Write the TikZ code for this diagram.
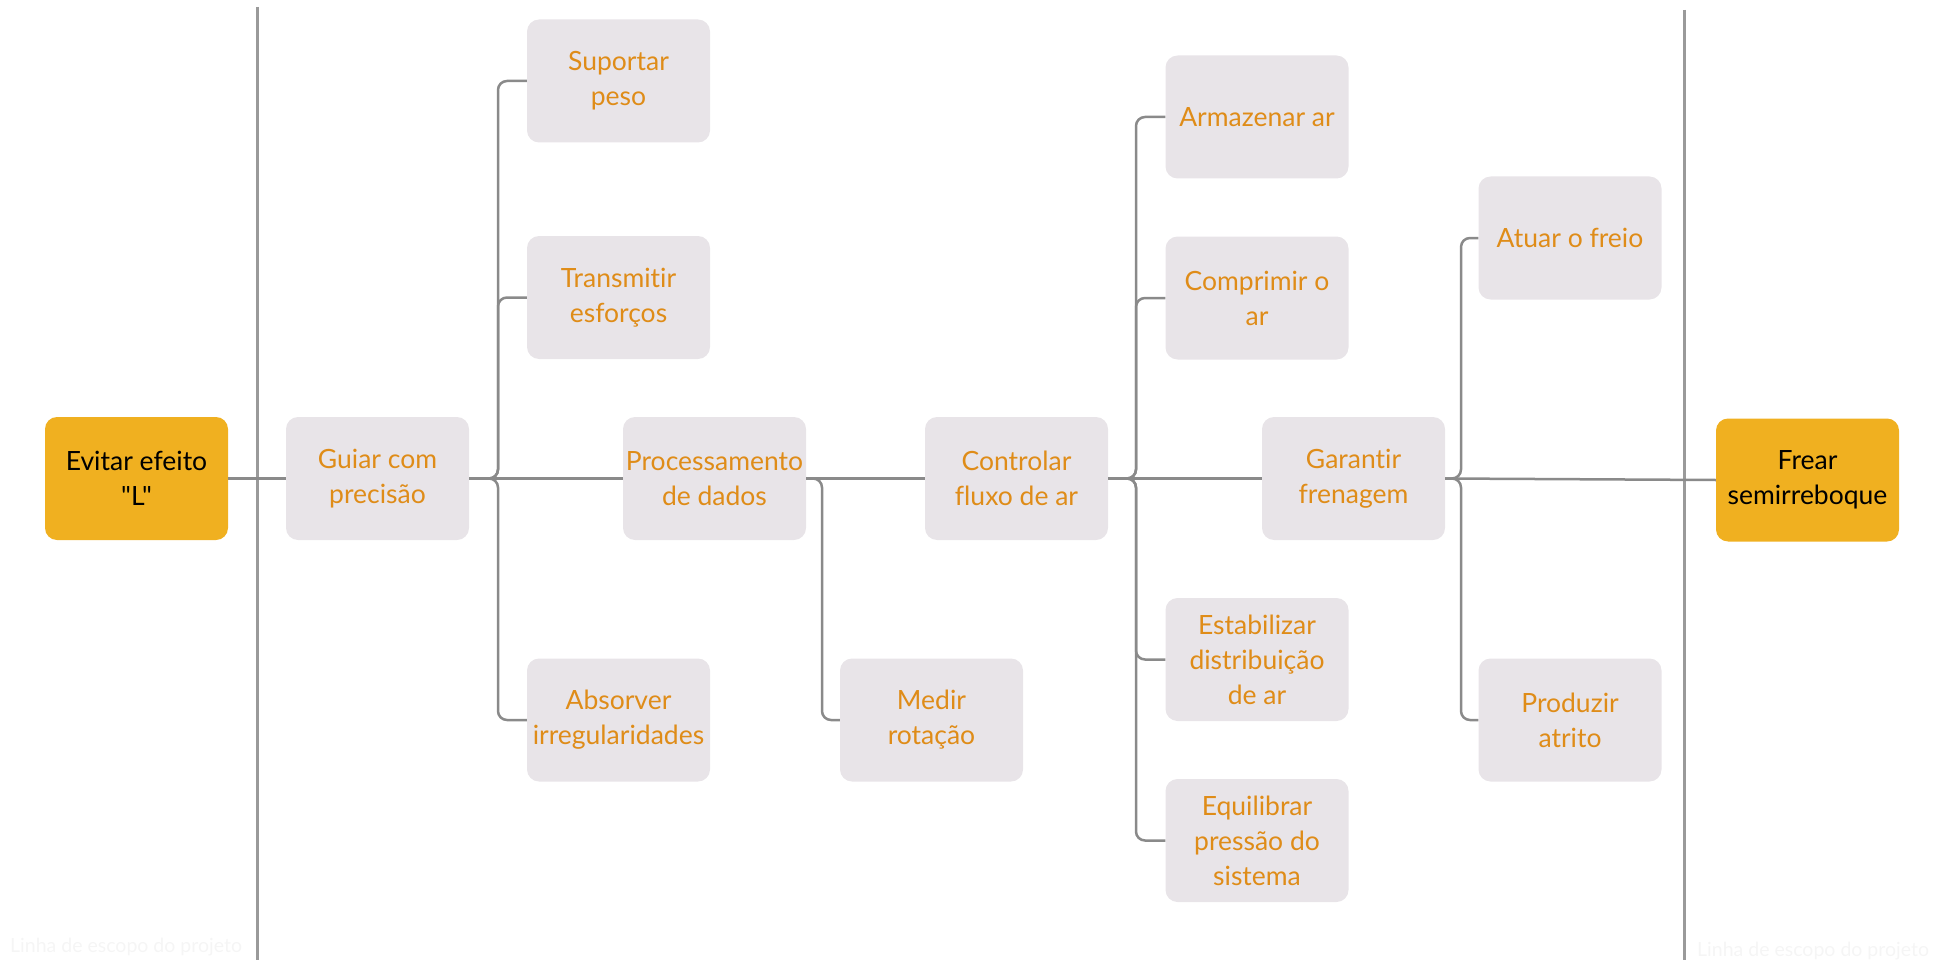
\documentclass[tikz,border=0pt]{standalone}
\usepackage{fontspec}
\setmainfont{Lato}[Ligatures={TeXOff,NoCommon}]
\definecolor{txtorange}{HTML}{DF8C18}
\definecolor{boxgrey}{HTML}{E8E4E8}
\definecolor{keyyellow}{HTML}{F0B020}
\definecolor{linegrey}{HTML}{8A8A8A}
\definecolor{scopegrey}{HTML}{9A9A9A}
\definecolor{faint}{HTML}{F5F5F5}
\begin{document}
\begin{tikzpicture}[x=1pt,y=-1pt,
  box/.style={draw=none, fill=boxgrey, rounded corners=12pt, minimum width=183pt, minimum height=123pt, align=center, text=txtorange, font=\fontsize{26.5}{35}\selectfont, inner sep=0pt},
  keybox/.style={box, fill=keyyellow, text=black},
  link/.style={draw=linegrey, line width=2.5pt, rounded corners=9pt},
  scopeline/.style={draw=scopegrey, line width=3pt},
  faintlabel/.style={text=faint, font=\fontsize{19.5}{22}\selectfont, inner sep=0pt, anchor=west}]
\useasboundingbox (0,0) rectangle (1948,960);
% scope lines
\coordinate (s1t) at (257,7);
\coordinate (s1b) at (257,960);
\coordinate (s2t) at (1684,10);
\coordinate (s2b) at (1684,960);
\draw[scopeline] (s1t) -- (s1b);
\draw[scopeline] (s2t) -- (s2b);
\node[faintlabel] (lbl1) at (10,947) {Linha de escopo do projeto};
\node[faintlabel] (lbl2) at (1697,951) {Linha de escopo do projeto};
% nodes
\node[keybox] (evitar) at (136.5,478.5) {Evitar efeito\\"L"};
\node[box] (guiar) at (377.5,478.5) {Guiar com\\precisão};
\node[box] (suportar) at (618.5,81) {Suportar\\peso};
\node[box] (transmitir) at (618.5,297.5) {Transmitir\\esforços};
\node[box] (absorver) at (618.5,720) {Absorver\\irregularidades};
\node[box] (proc) at (714.5,478.5) {Processamento\\de dados};
\node[box] (medir) at (931.5,720) {Medir\\rotação};
\node[box] (controlar) at (1016.5,478.5) {Controlar\\fluxo de ar};
\node[box] (armazenar) at (1257,117) {Armazenar ar};
\node[box] (comprimir) at (1257,298) {Comprimir o\\ar};
\node[box] (estabilizar) at (1257,659.5) {Estabilizar\\distribuição\\de ar};
\node[box] (equilibrar) at (1257,840.5) {Equilibrar\\pressão do\\sistema};
\node[box] (garantir) at (1353.5,478.5) {Garantir\\frenagem};
\node[box] (atuar) at (1570,238) {Atuar o freio};
\node[box] (produzir) at (1570,720) {Produzir\\atrito};
\node[keybox] (frear) at (1807.5,480) {Frear\\semirreboque};
% bar coordinates
\coordinate (b1) at (498,478.5);
\coordinate (b2) at (822,478.5);
\coordinate (b3) at (1136,478.5);
\coordinate (b4) at (1461,478.5);
% connectors
\draw[link] (evitar.east) -- (guiar.west);
\draw[link] (guiar.east) -- (proc.west);
\draw[link] (guiar.east) -- (b1) |- (suportar.west);
\draw[link] (guiar.east) -- (b1) |- (transmitir.west);
\draw[link] (guiar.east) -- (b1) |- (absorver.west);
\draw[link] (proc.east) -- (controlar.west);
\draw[link] (proc.east) -- (b2) |- (medir.west);
\draw[link] (controlar.east) -- (garantir.west);
\draw[link] (controlar.east) -- (b3) |- (armazenar.west);
\draw[link] (controlar.east) -- (b3) |- (comprimir.west);
\draw[link] (controlar.east) -- (b3) |- (estabilizar.west);
\draw[link] (controlar.east) -- (b3) |- (equilibrar.west);
\draw[link] (garantir.east) -- (frear.west);
\draw[link] (garantir.east) -- (b4) |- (atuar.west);
\draw[link] (garantir.east) -- (b4) |- (produzir.west);
\end{tikzpicture}
\end{document}
